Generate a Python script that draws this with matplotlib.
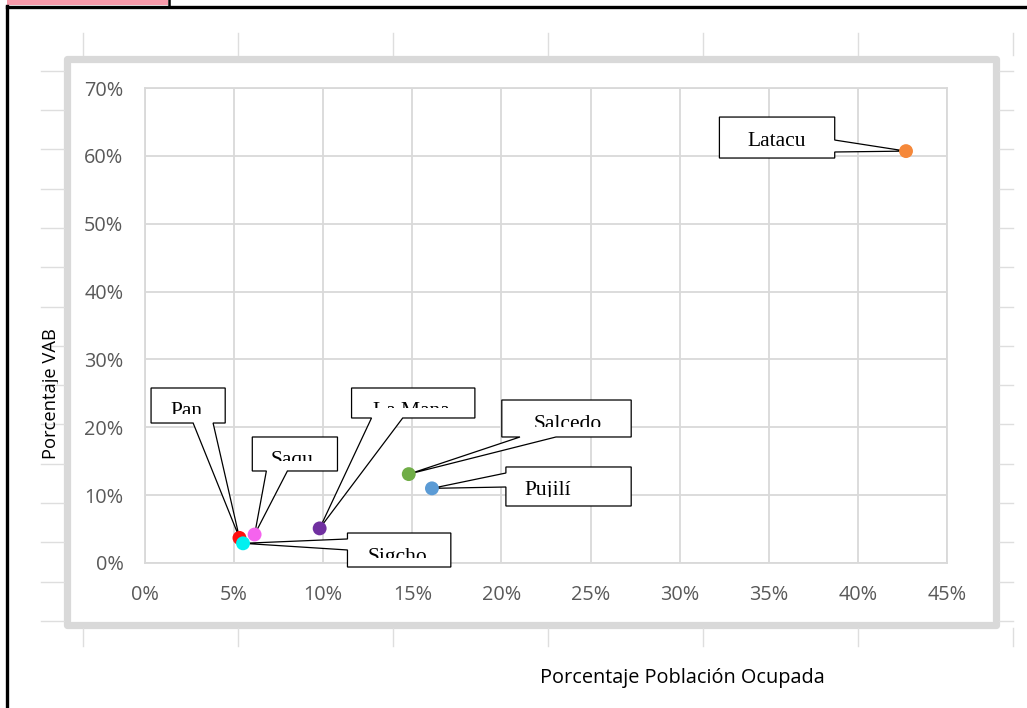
"""Scatter of VAB share vs employed population share, Cotopaxi cantons."""

import matplotlib

matplotlib.use("Agg")
import matplotlib.pyplot as plt
from matplotlib.patches import Polygon, Rectangle
from matplotlib.lines import Line2D
from matplotlib.ticker import PercentFormatter, MultipleLocator
from matplotlib.transforms import Bbox, TransformedBbox

W, H = 1027, 708

# data
cantons = ["Latacunga", "Salcedo", "Pujilí", "La Maná", "Saquisilí", "Pangua", "Sigchos"]
shown_labels = ["Latacu", "Salcedo", "Pujilí", "La Mana", "Saqu", "Pan", "Sigcho"]
pob_ocupada = [0.427, 0.148, 0.161, 0.098, 0.0615, 0.053, 0.055]
vab = [0.607, 0.131, 0.110, 0.051, 0.042, 0.037, 0.029]
colors = ["#F5883A", "#70AD47", "#5B9BD5", "#7030A0", "#F563EE", "#FF1010", "#00F0F0"]

# callout layout: box (x0, x1, y0, y1), wedge side, wedge base, text x
callout_boxes = [
    (0.3223, 0.3870, 0.5968, 0.6572),
    (0.2002, 0.2728, 0.1857, 0.2402),
    (0.2025, 0.2728, 0.0840, 0.1415),
    (0.1159, 0.1851, 0.2137, 0.2579),
    (0.0602, 0.1080, 0.1356, 0.1857),
    (0.0034, 0.0450, 0.2063, 0.2579),
    (0.1136, 0.1716, -0.0059, 0.0442),
]
callout_sides = ["right", "bottom", "left", "bottom", "bottom", "bottom", "left"]
callout_bases = [
    (0.6057, 0.6233),
    (0.2104, 0.2306),
    (0.1120, 0.1326),
    (0.1271, 0.1446),
    (0.0681, 0.0799),
    (0.0270, 0.0382),
    (0.0192, 0.0354),
]
callout_text_x = [0.3544, 0.2374, 0.2261, 0.1496, 0.0827, 0.0231, 0.1417]

GRID = "#D9D9D9"
CELL = "#DEDEDE"


def fx(px):
    return px / W


def fy(py):
    return 1 - py / H


def callout_path(box, side, base, tip):
    x0, x1, y0, y1 = box
    b0, b1 = base
    if side == "bottom":
        return [(x0, y1), (x1, y1), (x1, y0), (b1, y0), tip, (b0, y0), (x0, y0)]
    if side == "left":
        return [(x0, y1), (x1, y1), (x1, y0), (x0, y0), (x0, b0), tip, (x0, b1)]
    # right
    return [(x0, y1), (x1, y1), (x1, b1), tip, (x1, b0), (x1, y0), (x0, y0)]


fig = plt.figure(figsize=(W / 100, H / 100), dpi=100)
fig.patch.set_facecolor("white")

# worksheet cell lines around the chart object
for px in range(83, 1014, 155):
    fig.add_artist(Line2D([fx(px)] * 2, [fy(33), fy(55)], color=CELL, lw=1))
    fig.add_artist(Line2D([fx(px)] * 2, [fy(628), fy(646)], color=CELL, lw=1))
row = 70.7
while row < 625:
    fig.add_artist(Line2D([fx(41), fx(64)], [fy(row)] * 2, color=CELL, lw=1))
    fig.add_artist(Line2D([fx(999), fx(1013)], [fy(row)] * 2, color=CELL, lw=1))
    row += 39.3

# page border and header strip
fig.add_artist(Rectangle((fx(7), fy(5)), fx(161), 5 / H, transform=fig.transFigure,
                         facecolor="#F79AAA", edgecolor="none"))
fig.add_artist(Line2D([fx(7), 1], [fy(6.5)] * 2, color="black", lw=2.4))
fig.add_artist(Line2D([fx(7)] * 2, [fy(5.5), 0], color="black", lw=2.4))
fig.add_artist(Line2D([fx(169)] * 2, [1, fy(6)], color="black", lw=1.8))

# chart object frame
fig.add_artist(Rectangle((fx(67), fy(625)), fx(929), 566.5 / H, transform=fig.transFigure,
                         facecolor="none", edgecolor=GRID, lw=5.2, joinstyle="round"))

ax = fig.add_axes([fx(145), fy(563), fx(802), 475 / H])
ax.set_xlim(0, 0.45)
ax.set_ylim(0, 0.70)
ax.xaxis.set_major_locator(MultipleLocator(0.05))
ax.yaxis.set_major_locator(MultipleLocator(0.10))
ax.xaxis.set_major_formatter(PercentFormatter(1.0, decimals=0))
ax.yaxis.set_major_formatter(PercentFormatter(1.0, decimals=0))
ax.grid(True, color=GRID, lw=1.3)
ax.set_axisbelow(True)
for sp in ax.spines.values():
    sp.set_color(GRID)
    sp.set_linewidth(1.3)
ax.tick_params(length=0, labelsize=14.3, labelcolor="#595959")
ax.tick_params(axis="x", pad=16)
ax.tick_params(axis="y", pad=15.5)
for lab in ax.get_xticklabels() + ax.get_yticklabels():
    lab.set_fontfamily("Open Sans")

y_px = 1 / 678.6
for i, name in enumerate(cantons):
    tip = (pob_ocupada[i], vab[i])
    poly = Polygon(callout_path(callout_boxes[i], callout_sides[i], callout_bases[i], tip),
                   closed=True, facecolor="white", edgecolor="black", lw=0.9,
                   zorder=3, clip_on=False)
    ax.add_patch(poly)
    x0, x1, y0, y1 = callout_boxes[i]
    # label text is cut off by the bottom of the callout, as in the source
    t = ax.text(callout_text_x[i], y1 - 28.5 * y_px, shown_labels[i], ha="center",
                va="baseline", fontsize=15.5, family="Liberation Serif", zorder=4)
    t.set_clip_box(TransformedBbox(Bbox([[x0, y0 + 9.5 * y_px], [x1, y1]]), ax.transData))
    t.set_clip_on(True)

for i, name in enumerate(cantons):
    ax.scatter(pob_ocupada[i], vab[i], s=100, color=colors[i], edgecolors="none",
               zorder=5 + i, clip_on=False)

fig.text(fx(682), fy(678), "Porcentaje Población Ocupada", ha="center", va="center",
         fontsize=14.3, family="Open Sans", color="black")
yl = fig.text(fx(51), fy(394), "Porcentaje VAB", ha="center", va="center", rotation=90,
              fontsize=13.2, family="Open Sans", color="black")
yl.set_clip_box(Bbox([[0, 0], [58, H]]))
yl.set_clip_on(True)

fig.savefig("out.png", dpi=100)
